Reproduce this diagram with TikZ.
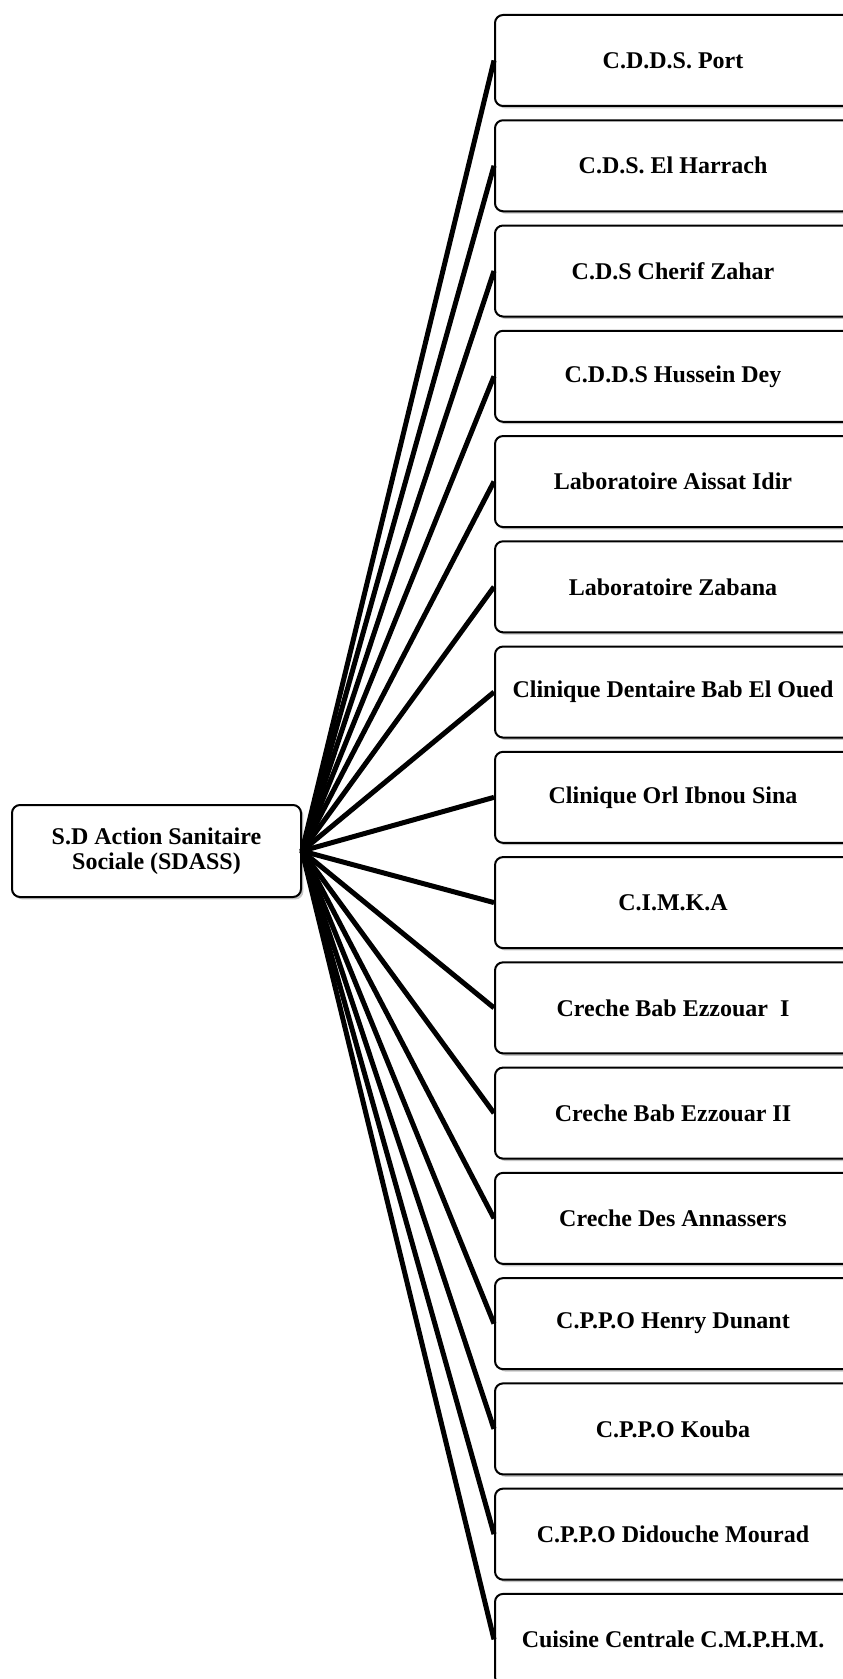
\documentclass[tikz,border=0pt]{standalone}
\usepackage{fontspec}
\setmainfont{Liberation Serif}
\usetikzlibrary{positioning, shadows}

\begin{document}
\begin{tikzpicture}[
    x=1pt, y=1pt,
    node distance=6.13pt,
    unit/.style={rectangle, draw=black, line width=1pt, fill=white, rounded corners=4pt, minimum width=178pt, minimum height=45.5pt, align=center, font=\bfseries\fontsize{12}{12.5}\selectfont, drop shadow={shadow xshift=1.2pt, shadow yshift=-1.2pt, fill=black!45, opacity=0.5}},
    head/.style={unit, minimum width=144.5pt, minimum height=46pt},
    link/.style={line width=2.5pt}
]
\useasboundingbox[fill=white] (0,0) rectangle (421,-839.5);

% Nodes
\node[head] (sdass) at (78.25,-425.5) {S.D Action Sanitaire\\Sociale (SDASS)};

\node[unit] (cdds) at (336.5,-30.25) {C.D.D.S. Port};
\node[unit, below=of cdds] (harrach) {C.D.S. El Harrach};
\node[unit, below=of harrach] (zahar) {C.D.S Cherif Zahar};
\node[unit, below=of zahar] (hussein) {C.D.D.S Hussein Dey};
\node[unit, below=of hussein] (aissat) {Laboratoire Aissat Idir};
\node[unit, below=of aissat] (zabana) {Laboratoire Zabana};
\node[unit, below=of zabana] (dentaire) {Clinique Dentaire Bab El Oued};
\node[unit, below=of dentaire] (orl) {Clinique Orl Ibnou Sina};
\node[unit, below=of orl] (cimka) {C.I.M.K.A};
\node[unit, below=of cimka] (crecheA) {Creche Bab Ezzouar\ \ I};
\node[unit, below=of crecheA] (crecheB) {Creche Bab Ezzouar II};
\node[unit, below=of crecheB] (annassers) {Creche Des Annassers};
\node[unit, below=of annassers] (dunant) {C.P.P.O Henry Dunant};
\node[unit, below=of dunant] (kouba) {C.P.P.O Kouba};
\node[unit, below=of kouba] (mourad) {C.P.P.O Didouche Mourad};
\node[unit, below=of mourad] (cuisine) {Cuisine Centrale C.M.P.H.M.};

% Links
\draw[link] (sdass.east) -- (cdds.west);
\draw[link] (sdass.east) -- (harrach.west);
\draw[link] (sdass.east) -- (zahar.west);
\draw[link] (sdass.east) -- (hussein.west);
\draw[link] (sdass.east) -- (aissat.west);
\draw[link] (sdass.east) -- (zabana.west);
\draw[link] (sdass.east) -- (dentaire.west);
\draw[link] (sdass.east) -- (orl.west);
\draw[link] (sdass.east) -- (cimka.west);
\draw[link] (sdass.east) -- (crecheA.west);
\draw[link] (sdass.east) -- (crecheB.west);
\draw[link] (sdass.east) -- (annassers.west);
\draw[link] (sdass.east) -- (dunant.west);
\draw[link] (sdass.east) -- (kouba.west);
\draw[link] (sdass.east) -- (mourad.west);
\draw[link] (sdass.east) -- (cuisine.west);
\end{tikzpicture}
\end{document}
